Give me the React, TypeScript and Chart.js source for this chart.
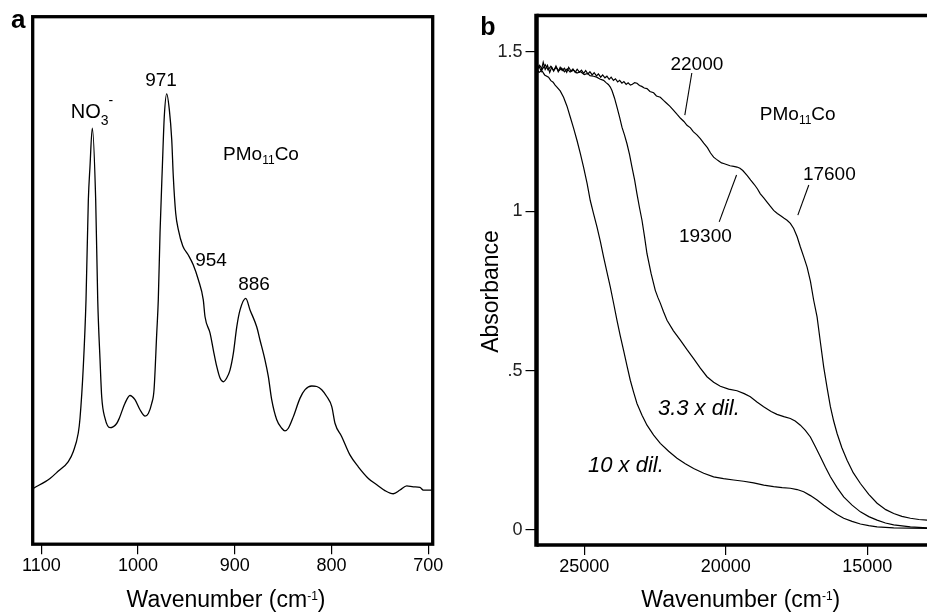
import { useEffect, useRef } from 'react';
import { Chart, registerables } from 'chart.js';

Chart.register(...registerables);

const FONT = '"Liberation Sans", Arial, Helvetica, sans-serif';

// ---------- Panel a: IR spectrum ----------
const irWavenumber = [1108.3, 1091.0, 1082.4, 1072.1, 1066.9, 1061.8, 1060.0, 1056.6, 1053.8, 1051.4, 1049.7, 1047.3, 1043.8, 1041.7, 1039.3, 1037.6, 1034.2, 1029.0, 1022.1, 1019.4, 1013.6, 1008.4, 1003.2, 998.0, 992.8, 989.4, 985.9, 983.5, 980.7, 979.1, 977.3, 974.9, 972.9, 970.4, 967.7, 965.2, 963.6, 961.1, 958.4, 953.8, 948.1, 942.9, 937.7, 932.6, 930.8, 925.6, 922.2, 918.7, 915.3, 911.9, 908.4, 905.0, 901.5, 898.0, 894.6, 888.7, 884.3, 877.4, 874.0, 868.8, 865.4, 861.9, 856.7, 851.5, 848.2, 844.7, 839.5, 832.6, 827.4, 820.5, 815.3, 810.2, 805.0, 799.8, 796.4, 789.5, 780.9, 772.4, 762.0, 753.3, 744.8, 736.2, 729.3, 722.3, 715.5, 708.7, 705.2, 695.5];
const irSignal = [10.7, 12.6, 14.0, 15.8, 17.7, 21.2, 24.0, 33.8, 46.4, 65.3, 71.6, 78.9, 65.3, 46.4, 35.0, 28.1, 24.0, 22.2, 23.0, 24.0, 26.8, 28.3, 27.5, 25.6, 24.4, 24.9, 26.8, 29.4, 40.1, 46.4, 59.1, 71.6, 81.1, 85.4, 82.4, 76.7, 69.8, 62.8, 59.7, 56.6, 54.9, 53.0, 50.2, 46.4, 43.2, 40.1, 36.9, 33.8, 31.6, 30.9, 31.6, 33.1, 36.3, 41.3, 44.5, 46.7, 44.5, 41.3, 38.8, 35.0, 31.9, 27.5, 23.7, 22.1, 21.6, 22.1, 24.3, 27.8, 29.4, 30.1, 30.0, 29.4, 28.1, 26.2, 23.0, 20.5, 17.0, 14.8, 12.6, 11.4, 10.3, 9.7, 10.4, 11.2, 11.0, 10.9, 10.4, 10.4];
const irXTicks = [700, 800, 900, 1000, 1100];

// ---------- Panel b: UV-vis absorbance (wavenumber, absorbance) ----------
const uvConc: [number, number][] = [[26680,1.438],[26600,1.455],[26520,1.440],[26450,1.468],[26380,1.445],[26300,1.458],[26220,1.436],[26150,1.452],[26080,1.440],[26000,1.456],[25920,1.438],[25850,1.452],[25780,1.442],[25700,1.449],[25620,1.436],[25550,1.452],[25470,1.440],[25400,1.447],[25320,1.436],[25250,1.446],[25170,1.437],[25100,1.443],[25020,1.433],[24950,1.442],[24870,1.431],[24800,1.438],[24720,1.428],[24650,1.435],[24570,1.425],[24500,1.431],[24420,1.421],[24350,1.428],[24270,1.419],[24200,1.424],[24120,1.414],[24050,1.421],[23970,1.411],[23900,1.416],[23820,1.406],[23750,1.411],[23670,1.402],[23600,1.407],[23520,1.398],[23450,1.403],[23370,1.396],[23300,1.399],[23220,1.404],[23138,1.402],[23050,1.395],[22970,1.392],[22880,1.387],[22784,1.385],[22680,1.376],[22550,1.372],[22450,1.362],[22314,1.358],[22200,1.348],[22100,1.340],[21980,1.330],[21844,1.317],[21720,1.304],[21600,1.292],[21480,1.282],[21371,1.270],[21250,1.262],[21150,1.250],[21020,1.240],[20901,1.228],[20780,1.214],[20650,1.200],[20540,1.183],[20431,1.170],[20330,1.163],[20250,1.158],[20150,1.152],[20077,1.150],[19950,1.146],[19850,1.143],[19720,1.141],[19604,1.139],[19500,1.135],[19400,1.128],[19250,1.113],[19120,1.098],[19000,1.085],[18880,1.070],[18780,1.055],[18660,1.042],[18550,1.030],[18430,1.016],[18310,1.003],[18180,0.993],[18050,0.985],[17940,0.978],[17836,0.972],[17720,0.962],[17603,0.946],[17480,0.920],[17366,0.888],[17250,0.858],[17129,0.825],[17010,0.780],[16896,0.721],[16776,0.669],[16660,0.590],[16543,0.512],[16420,0.445],[16306,0.387],[16190,0.342],[16069,0.303],[15900,0.258],[15716,0.219],[15500,0.180],[15246,0.146],[14950,0.112],[14656,0.084],[14350,0.064],[14069,0.052],[13780,0.043],[13479,0.037],[13180,0.033],[12889,0.031],[12430,0.028]];
const uvDil33: [number, number][] = [[26680,1.445],[26580,1.458],[26480,1.446],[26380,1.460],[26280,1.444],[26180,1.455],[26085,1.442],[25990,1.452],[25900,1.441],[25800,1.449],[25700,1.438],[25600,1.447],[25500,1.437],[25380,1.443],[25258,1.434],[25130,1.438],[25000,1.429],[24880,1.433],[24800,1.426],[24671,1.424],[24560,1.421],[24450,1.415],[24318,1.411],[24230,1.404],[24150,1.398],[24080,1.390],[24021,1.379],[23930,1.355],[23844,1.327],[23750,1.295],[23668,1.264],[23580,1.240],[23491,1.212],[23400,1.178],[23314,1.139],[23220,1.098],[23138,1.055],[23050,1.012],[22961,0.972],[22870,0.920],[22784,0.867],[22640,0.805],[22491,0.752],[22400,0.730],[22314,0.712],[22200,0.685],[22077,0.658],[21850,0.625],[21607,0.596],[21370,0.566],[21137,0.538],[20900,0.508],[20664,0.481],[20430,0.464],[20194,0.451],[19900,0.442],[19604,0.437],[19350,0.428],[19134,0.418],[18900,0.402],[18664,0.387],[18400,0.372],[18193,0.363],[17950,0.356],[17720,0.350],[17550,0.342],[17366,0.329],[17190,0.313],[17013,0.292],[16840,0.262],[16660,0.230],[16480,0.197],[16306,0.167],[16070,0.133],[15836,0.104],[15540,0.078],[15246,0.057],[14950,0.042],[14656,0.031],[14360,0.022],[14069,0.016],[13480,0.010],[12889,0.007],[12430,0.006]];
const uvDil10: [number, number][] = [[26680,1.448],[26600,1.436],[26500,1.442],[26400,1.428],[26262,1.421],[26180,1.410],[26100,1.405],[26030,1.396],[25965,1.390],[25850,1.378],[25731,1.358],[25610,1.330],[25495,1.296],[25380,1.262],[25258,1.223],[25140,1.182],[25025,1.139],[24900,1.088],[24788,1.034],[24670,0.992],[24551,0.951],[24430,0.905],[24318,0.857],[24200,0.810],[24081,0.763],[23960,0.710],[23844,0.658],[23730,0.610],[23611,0.564],[23490,0.515],[23374,0.470],[23255,0.432],[23138,0.397],[22960,0.360],[22784,0.329],[22550,0.298],[22314,0.272],[22020,0.247],[21724,0.225],[21430,0.208],[21137,0.193],[20780,0.178],[20431,0.167],[20080,0.161],[19724,0.157],[19370,0.153],[19017,0.148],[18660,0.141],[18310,0.136],[18010,0.133],[17720,0.131],[17480,0.127],[17249,0.120],[17010,0.108],[16776,0.094],[16540,0.078],[16306,0.063],[16070,0.049],[15836,0.037],[15540,0.027],[15246,0.019],[14950,0.014],[14656,0.010],[14069,0.007],[13480,0.006],[12889,0.005],[12430,0.005]];
const uvXTicks = [15000, 20000, 25000];
const uvYTicks = [0, 0.5, 1, 1.5];
const uvYTickLabels = ['0', '.5', '1', '1.5'];

type Part = { t: string; size: number; dy?: number; italic?: boolean; bold?: boolean };

function fontOf(p: Part) {
  return `${p.italic ? 'italic ' : ''}${p.bold ? 'bold ' : ''}${p.size}px ${FONT}`;
}

function drawRich(ctx: CanvasRenderingContext2D, parts: Part[], x: number, y: number, align: 'left' | 'center') {
  let total = 0;
  const widths = parts.map((p) => {
    ctx.font = fontOf(p);
    const w = ctx.measureText(p.t).width;
    total += w;
    return w;
  });
  let cx = align === 'center' ? x - total / 2 : x;
  ctx.textAlign = 'left';
  ctx.textBaseline = 'alphabetic';
  ctx.fillStyle = '#000';
  parts.forEach((p, i) => {
    ctx.font = fontOf(p);
    ctx.fillText(p.t, cx, y + (p.dy || 0));
    cx += widths[i];
  });
}

const pmoParts: Part[] = [
  { t: 'PMo', size: 19 },
  { t: '11', size: 12, dy: 4 },
  { t: 'Co', size: 19 },
];
const titleParts: Part[] = [
  { t: 'Wavenumber (cm', size: 23 },
  { t: '-1', size: 12, dy: -7 },
  { t: ')', size: 23 },
];

type Note = { parts: Part[]; x: number; y: number; align: 'left' | 'center' };

const irNotes: Note[] = [
  { parts: [{ t: 'NO', size: 20 }, { t: '3', size: 14, dy: 7 }, { t: '-', size: 14, dy: -13 }], x: 1069.6, y: 80.9, align: 'left' },
  { parts: [{ t: '971', size: 19 }], x: 976.3, y: 86.8, align: 'center' },
  { parts: pmoParts, x: 912.1, y: 72.8, align: 'left' },
  { parts: [{ t: '954', size: 19 }], x: 924.6, y: 52.9, align: 'center' },
  { parts: [{ t: '886', size: 19 }], x: 880.2, y: 48.2, align: 'center' },
];

const uvNotes: Note[] = [
  { parts: [{ t: '22000', size: 19 }], x: 21022, y: 1.443, align: 'center' },
  { parts: pmoParts, x: 18798, y: 1.2865, align: 'left' },
  { parts: [{ t: '17600', size: 19 }], x: 16344, y: 1.098, align: 'center' },
  { parts: [{ t: '19300', size: 19 }], x: 20722, y: 0.9046, align: 'center' },
  { parts: [{ t: '3.3 x dil.', size: 22, italic: true }], x: 20951, y: 0.361, align: 'center' },
  { parts: [{ t: '10 x dil.', size: 22, italic: true }], x: 23528, y: 0.183, align: 'center' },
];

const uvLeaders: [number, number, number, number][] = [
  [21201, 1.434, 21448, 1.302],
  [20234, 0.967, 19620, 1.114],
  [17068, 1.0825, 17456, 0.988],
];

const panelAPlugin = {
  id: 'panelA',
  afterDraw(chart: any) {
    const { ctx, chartArea: ca, scales } = chart;
    ctx.save();
    ctx.strokeStyle = '#000';
    ctx.lineWidth = 3.3;
    ctx.strokeRect(ca.left, ca.top, ca.right - ca.left, ca.bottom - ca.top);
    irNotes.forEach((n) =>
      drawRich(ctx, n.parts, scales.x.getPixelForValue(n.x), scales.y.getPixelForValue(n.y), n.align)
    );
    drawRich(ctx, [{ t: 'a', size: 26, bold: true }], 11, 28.3, 'left');
    drawRich(ctx, titleParts, 226, 607, 'center');
    ctx.restore();
  },
};

const panelBPlugin = {
  id: 'panelB',
  afterDraw(chart: any) {
    const { ctx, chartArea: ca, scales, width } = chart;
    ctx.save();
    ctx.strokeStyle = '#000';
    ctx.lineCap = 'butt';
    ctx.lineWidth = 3.5;
    ctx.beginPath();
    ctx.moveTo(ca.left, ca.top);
    ctx.lineTo(width, ca.top);
    ctx.moveTo(ca.left, ca.bottom);
    ctx.lineTo(width, ca.bottom);
    ctx.stroke();
    ctx.lineWidth = 4.5;
    ctx.beginPath();
    ctx.moveTo(ca.left, ca.top - 1.75);
    ctx.lineTo(ca.left, ca.bottom + 1.75);
    ctx.stroke();
    ctx.lineWidth = 1.1;
    uvLeaders.forEach(([x1, y1, x2, y2]) => {
      ctx.beginPath();
      ctx.moveTo(scales.x.getPixelForValue(x1), scales.y.getPixelForValue(y1));
      ctx.lineTo(scales.x.getPixelForValue(x2), scales.y.getPixelForValue(y2));
      ctx.stroke();
    });
    uvNotes.forEach((n) =>
      drawRich(ctx, n.parts, scales.x.getPixelForValue(n.x), scales.y.getPixelForValue(n.y), n.align)
    );
    drawRich(ctx, [{ t: 'b', size: 25, bold: true }], 20.3, 35, 'left');
    drawRich(ctx, titleParts, 280.8, 607, 'center');
    ctx.translate(38, 291.5);
    ctx.rotate(-Math.PI / 2);
    drawRich(ctx, [{ t: 'Absorbance', size: 23 }], 0, 0, 'center');
    ctx.restore();
  },
};

const lineStyle = {
  borderColor: '#000',
  borderWidth: 1.2,
  pointRadius: 0,
  fill: false,
};

export default function App() {
  const refA = useRef<HTMLCanvasElement>(null);
  const refB = useRef<HTMLCanvasElement>(null);

  useEffect(() => {
    Chart.defaults.font.family = FONT;
    Chart.defaults.color = '#000';

    const chartA = new Chart(refA.current as HTMLCanvasElement, {
      type: 'line',
      data: {
        datasets: [
          {
            ...lineStyle,
            borderWidth: 1.3,
            cubicInterpolationMode: 'monotone',
            data: irWavenumber.map((x, i) => ({ x, y: irSignal[i] })),
          } as any,
        ],
      },
      options: {
        animation: false,
        responsive: false,
        events: [],
        layout: { padding: { left: 32.7, right: 27.3, top: 16.7, bottom: 0 } },
        plugins: { legend: { display: false }, tooltip: { enabled: false } },
        scales: {
          x: {
            type: 'linear',
            reverse: true,
            min: 695.5,
            max: 1108.9,
            afterBuildTicks: (s: any) => {
              s.ticks = irXTicks.map((v) => ({ value: v }));
            },
            afterFit: (s: any) => {
              s.height = 69.8;
            },
            grid: { drawOnChartArea: false, drawTicks: true, tickLength: 10, color: '#000', lineWidth: 1.2 },
            border: { display: false },
            ticks: {
              font: { family: FONT, size: 18 },
              color: '#000',
              padding: 1,
              maxRotation: 0,
              autoSkip: false,
              callback: (v: any) => String(v),
            },
          },
          y: { display: false, min: 0.15, max: 100 },
        },
      } as any,
      plugins: [panelAPlugin],
    });

    const chartB = new Chart(refB.current as HTMLCanvasElement, {
      type: 'line',
      data: {
        datasets: [
          { ...lineStyle, data: uvConc.map(([x, y]) => ({ x, y })) } as any,
          { ...lineStyle, data: uvDil33.map(([x, y]) => ({ x, y })) } as any,
          { ...lineStyle, data: uvDil10.map(([x, y]) => ({ x, y })) } as any,
        ],
      },
      options: {
        animation: false,
        responsive: false,
        events: [],
        layout: { padding: { left: 0, right: 0, top: 15.5, bottom: 0 } },
        plugins: { legend: { display: false }, tooltip: { enabled: false } },
        scales: {
          x: {
            type: 'linear',
            reverse: true,
            min: 12434,
            max: 26687,
            afterBuildTicks: (s: any) => {
              s.ticks = uvXTicks.map((v) => ({ value: v }));
            },
            afterFit: (s: any) => {
              s.height = 69;
            },
            grid: { drawOnChartArea: false, drawTicks: true, tickLength: 10, color: '#000', lineWidth: 1.2 },
            border: { display: false },
            ticks: {
              font: { family: FONT, size: 18 },
              color: '#000',
              padding: 1,
              maxRotation: 0,
              autoSkip: false,
              callback: (v: any) => String(v),
            },
          },
          y: {
            type: 'linear',
            min: -0.047,
            max: 1.6145,
            afterBuildTicks: (s: any) => {
              s.ticks = uvYTicks.map((v) => ({ value: v }));
            },
            afterFit: (s: any) => {
              s.width = 76.5;
            },
            grid: { drawOnChartArea: false, drawTicks: true, tickLength: 11, color: '#000', lineWidth: 1.2 },
            border: { display: false },
            ticks: {
              font: { family: FONT, size: 18 },
              color: '#222',
              padding: 3,
              autoSkip: false,
              callback: (v: any) => {
                const i = uvYTicks.indexOf(Number(v));
                return i >= 0 ? uvYTickLabels[i] : '';
              },
            },
          },
        },
      } as any,
      plugins: [panelBPlugin],
    });

    return () => {
      chartA.destroy();
      chartB.destroy();
    };
  }, []);

  return (
    <div
      style={{
        position: 'absolute',
        left: 0,
        top: 0,
        width: 927,
        height: 614,
        overflow: 'hidden',
        background: '#fff',
      }}
    >
      <canvas ref={refA} width={460} height={614} style={{ position: 'absolute', left: 0, top: 0 }} />
      <canvas ref={refB} width={480} height={614} style={{ position: 'absolute', left: 460, top: 0 }} />
    </div>
  );
}
